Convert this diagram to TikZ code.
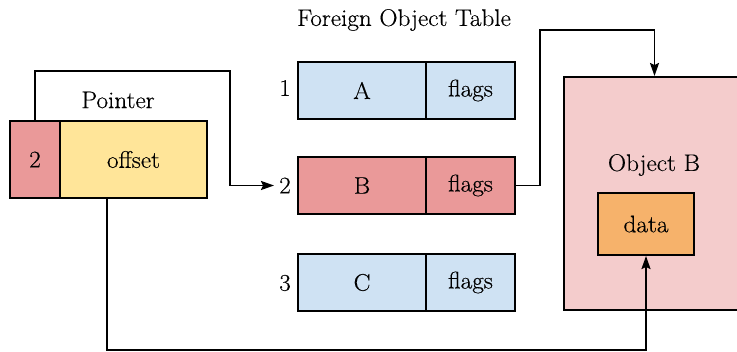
\documentclass[tikz,border=0pt]{standalone}
\usepackage{fontspec}
\setmainfont{Latin Modern Roman}[FakeStretch=1.05,FakeBold=0.4]
\usetikzlibrary{arrows.meta}
\definecolor{cellblue}{HTML}{CFE2F3}
\definecolor{cellred}{HTML}{EA9999}
\definecolor{cellyellow}{HTML}{FFE599}
\definecolor{objpink}{HTML}{F4CCCC}
\definecolor{dataorange}{HTML}{F6B26B}
\begin{document}
\begin{tikzpicture}[x=1pt,y=-1pt,
  font=\fontsize{24}{28}\selectfont,
  cell/.style={draw=black,line width=2pt,minimum height=57pt,inner sep=0pt},
  ptrcell/.style={draw=black,line width=2pt,minimum height=77pt,inner sep=0pt},
  lbl/.style={inner sep=0pt},
  link/.style={draw=black,line width=1.8pt},
  arr/.style={link,-{Stealth[length=13pt,width=9pt,inset=2pt]}}]
\useasboundingbox (0,0) rectangle (737,352);
% object in memory
\node[draw=black,line width=2pt,fill=objpink,minimum width=181pt,minimum height=233pt,inner sep=0pt] (obj) at (654.5,193.5) {};
\node[lbl] (objlbl) at (654,165) {Object B};
\node[draw=black,line width=2pt,fill=dataorange,minimum width=96pt,minimum height=62pt,inner sep=0pt] (data) at (646,224) {data};
% pointer
\node[ptrcell,fill=cellred,minimum width=50pt] (ptag) at (35,159.5) {2};
\node[ptrcell,fill=cellyellow,minimum width=147pt] (poff) at (133.5,159.5) {offset};
\node[lbl] (plbl) at (118,100) {Pointer};
% foreign object table
\node[lbl] (title) at (404,20) {Foreign Object Table};
\node[cell,fill=cellblue,minimum width=128pt] (a) at (362,90.5) {A};
\node[cell,fill=cellblue,minimum width=89pt] (fa) at (470.5,90.5) {flags};
\node[cell,fill=cellred,minimum width=128pt] (b) at (362,185.5) {B};
\node[cell,fill=cellred,minimum width=89pt] (fb) at (470.5,185.5) {flags};
\node[cell,fill=cellblue,minimum width=128pt] (c) at (362,282.5) {C};
\node[cell,fill=cellblue,minimum width=89pt] (fc) at (470.5,282.5) {flags};
\node[lbl] (i1) at (285,88) {1};
\node[lbl] (i2) at (285,185.5) {2};
\node[lbl] (i3) at (285,283) {3};
% connectors
\draw[arr] (ptag.north) -- (35,71) -- (230,71) -- (230,185.5) -- ([xshift=-5pt]i2.west);
\draw[arr] (fb.east) -- (540,185.5) -- (540,30) -- (654.5,30) -- (obj.north);
\draw[arr] (107,0 |- poff.south) -- (107,350) -- (646,350) -- (data.south);
\end{tikzpicture}
\end{document}
